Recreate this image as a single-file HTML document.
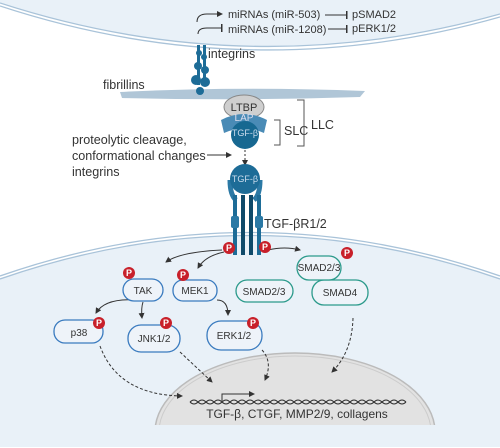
<!DOCTYPE html>
<html><head><meta charset="utf-8"><style>
html,body{margin:0;padding:0;background:#fff;width:500px;height:448px;overflow:hidden}
svg{display:block;font-family:"Liberation Sans",sans-serif}
</style></head><body>
<svg width="500" height="448" viewBox="0 0 500 448">
<defs>
<marker id="ah" markerWidth="6" markerHeight="6" refX="5" refY="3" orient="auto"><path d="M0,0 L6,3 L0,6 z" fill="#333"/></marker>
<marker id="tb" markerWidth="2" markerHeight="8" refX="1" refY="4" orient="auto"><rect x="0" y="0" width="1.5" height="8" fill="#333"/></marker>
<clipPath id="nucclip"><rect x="0" y="0" width="500" height="425"/></clipPath>
</defs>
<path d="M0,0 L500,0 L500,14 Q250,84 0,3 Z" fill="#e9f1f8"/>
<path d="M0,3 Q250,84 500,14" fill="none" stroke="#a9c3d9" stroke-width="1.3"/>
<path d="M0,6 Q250,88 500,17" fill="none" stroke="#a9c3d9" stroke-width="1.3"/>
<path d="M0,279 Q250,192 500,279 L500,447 L0,447 Z" fill="#e9f1f8"/>
<path d="M0,276 Q250,189 500,276" fill="none" stroke="#a9c3d9" stroke-width="1.3"/>
<path d="M0,279 Q250,192 500,279" fill="none" stroke="#a9c3d9" stroke-width="1.3"/>
<g clip-path="url(#nucclip)">
<ellipse cx="295" cy="432" rx="140" ry="79" fill="#e2e2e2" stroke="#bbb" stroke-width="1.5"/>
<ellipse cx="295" cy="432" rx="136" ry="76" fill="none" stroke="#ccc" stroke-width="1"/>
</g>
<g font-size="11" fill="#333">
<path d="M197,22 Q197,14 207,14 L222,14" fill="none" stroke="#333" stroke-width="1" marker-end="url(#ah)"/>
<text x="228" y="18">miRNAs (miR-503)</text>
<line x1="325" y1="15" x2="347" y2="15" stroke="#333" marker-end="url(#tb)"/>
<text x="352" y="18">pSMAD2</text>
<path d="M198,34 Q198,28 207,28 L222,28" fill="none" stroke="#333" stroke-width="1" marker-end="url(#tb)"/>
<text x="228" y="33">miRNAs (miR-1208)</text>
<line x1="328" y1="29" x2="347" y2="29" stroke="#333" marker-end="url(#tb)"/>
<text x="352" y="32">pERK1/2</text>
</g>
<path d="M120,92 Q240,86 365,91 L360,97 Q240,101 122,98 Z" fill="#8eaec6" opacity="0.7"/>
<text x="103" y="89" font-size="12.5" fill="#333">fibrillins</text>
<g fill="#1d6c97">
<rect x="197" y="45" width="3" height="40"/><rect x="203" y="45" width="3" height="40"/>
<circle cx="199" cy="53" r="3"/><circle cx="204" cy="57" r="3"/><circle cx="198" cy="66" r="4"/><circle cx="205" cy="70" r="4"/><circle cx="196" cy="80" r="5"/><circle cx="205" cy="82" r="5"/><circle cx="200" cy="91" r="4"/>
</g>
<text x="208" y="58" font-size="12.5" fill="#333">integrins</text>
<ellipse cx="244" cy="107" rx="20" ry="12" fill="#cfcfcf" stroke="#888"/>
<text x="244" y="111" font-size="11" text-anchor="middle" fill="#333">LTBP</text>
<path d="M221,120 Q244,108 267,120 L264,133 Q244,124 224,133 Z" fill="#4a8bb6"/>
<text x="244" y="121" font-size="10" text-anchor="middle" fill="#dde">LAP</text>
<circle cx="245" cy="135" r="14" fill="#176891"/>
<text x="245" y="136" font-size="9" text-anchor="middle" fill="#cde">TGF-β</text>
<path d="M274,120 L280,120 L280,145 L274,145" fill="none" stroke="#555"/>
<text x="284" y="135" font-size="12.5" fill="#333">SLC</text>
<path d="M297,100 L304,100 L304,146 L297,146" fill="none" stroke="#555"/>
<text x="311" y="129" font-size="12.5" fill="#333">LLC</text>
<g font-size="12.6" fill="#333">
<text x="72" y="144">proteolytic cleavage,</text>
<text x="72" y="160">conformational changes</text>
<text x="72" y="176">integrins</text>
</g>
<line x1="207" y1="155" x2="231" y2="155" stroke="#333" marker-end="url(#ah)"/>
<line x1="245" y1="150" x2="245" y2="165" stroke="#333" stroke-dasharray="2,2" marker-end="url(#ah)"/>
<g>
<path d="M230,180 Q230,195 236,200 M260,180 Q260,195 254,200" stroke="#2b79a5" stroke-width="5" fill="none"/>
<rect x="233" y="195" width="4" height="60" fill="#1d6c97"/><rect x="241" y="195" width="4" height="60" fill="#0f4a6a"/>
<rect x="249" y="195" width="4" height="60" fill="#0f4a6a"/><rect x="257" y="195" width="4" height="60" fill="#1d6c97"/>
<rect x="231" y="216" width="8" height="12" rx="2" fill="#2b79a5"/><rect x="255" y="216" width="8" height="12" rx="2" fill="#2b79a5"/>
<circle cx="245" cy="179" r="15" fill="#1d6c97"/>
<text x="245" y="182" font-size="9" text-anchor="middle" fill="#cde">TGF-β</text>
</g>
<text x="264" y="228" font-size="12.5" fill="#333">TGF-βR1/2</text>
<g fill="none" stroke="#333" stroke-width="1">
<path d="M222,250 Q180,252 166,262" marker-end="url(#ah)"/>
<path d="M224,252 Q205,256 198,268" marker-end="url(#ah)"/>
<path d="M268,250 Q285,246 300,250" marker-end="url(#ah)"/>
<path d="M136,300 Q105,298 96,313" marker-end="url(#ah)"/>
<path d="M143,302 Q141,308 142,318" marker-end="url(#ah)"/>
<path d="M217,300 Q228,300 228,315" marker-end="url(#ah)"/>
</g>
<g fill="none" stroke="#333" stroke-width="1" stroke-dasharray="3,2">
<path d="M100,346 Q118,395 182,396" marker-end="url(#ah)"/>
<path d="M180,352 L212,382" marker-end="url(#ah)"/>
<path d="M262,350 Q273,362 265,380" marker-end="url(#ah)"/>
<path d="M353,318 Q352,352 332,372" marker-end="url(#ah)"/>
</g>
<g font-size="10" fill="#333" text-anchor="middle">
<rect x="123" y="279" width="40" height="22" rx="11" fill="#eef3f9" stroke="#3a7bbf" stroke-width="1.3"/><text x="143" y="294">TAK</text>
<rect x="173" y="280" width="44" height="21" rx="10" fill="#eef3f9" stroke="#3a7bbf" stroke-width="1.3"/><text x="195" y="294">MEK1</text>
<rect x="236" y="280" width="57" height="22" rx="11" fill="#eef3f9" stroke="#2b9a8b" stroke-width="1.3"/><text x="264" y="295">SMAD2/3</text>
<rect x="312" y="280" width="56" height="25" rx="12" fill="#eef3f9" stroke="#2b9a8b" stroke-width="1.3"/><text x="340" y="296">SMAD4</text>
<rect x="297" y="256" width="44" height="24" rx="12" fill="#eef3f9" stroke="#2b9a8b" stroke-width="1.3"/><text x="319" y="271">SMAD2/3</text>
<rect x="54" y="320" width="49" height="23" rx="11" fill="#eef3f9" stroke="#3a7bbf" stroke-width="1.3"/><text x="79" y="336">p38</text>
<rect x="128" y="325" width="52" height="27" rx="13" fill="#eef3f9" stroke="#3a7bbf" stroke-width="1.3"/><text x="154" y="342">JNK1/2</text>
<rect x="207" y="321" width="55" height="29" rx="14" fill="#eef3f9" stroke="#3a7bbf" stroke-width="1.3"/><text x="234" y="339">ERK1/2</text>
</g>
<g font-size="9" fill="#fff" text-anchor="middle" font-weight="bold">
<circle cx="229" cy="248" r="6" fill="#c8202a"/><text x="229" y="251">P</text>
<circle cx="265" cy="247" r="6" fill="#c8202a"/><text x="265" y="250">P</text>
<circle cx="129" cy="273" r="6" fill="#c8202a"/><text x="129" y="276">P</text>
<circle cx="183" cy="275" r="6" fill="#c8202a"/><text x="183" y="278">P</text>
<circle cx="99" cy="323" r="6" fill="#c8202a"/><text x="99" y="326">P</text>
<circle cx="166" cy="323" r="6" fill="#c8202a"/><text x="166" y="326">P</text>
<circle cx="253" cy="323" r="6" fill="#c8202a"/><text x="253" y="326">P</text>
<circle cx="347" cy="253" r="6" fill="#c8202a"/><text x="347" y="256">P</text>
</g>
<g fill="none" stroke="#333" stroke-width="1">
<path d="M190,402 q4,-4 8,0 t8,0 t8,0 t8,0 t8,0 t8,0 t8,0 t8,0 t8,0 t8,0 t8,0 t8,0 t8,0 t8,0 t8,0 t8,0 t8,0 t8,0 t8,0 t8,0 t8,0 t8,0 t8,0 t8,0 t8,0 t8,0 t8,0"/>
<path d="M190,402 q4,4 8,0 t8,0 t8,0 t8,0 t8,0 t8,0 t8,0 t8,0 t8,0 t8,0 t8,0 t8,0 t8,0 t8,0 t8,0 t8,0 t8,0 t8,0 t8,0 t8,0 t8,0 t8,0 t8,0 t8,0 t8,0 t8,0 t8,0"/>
</g>
<path d="M222,401 L222,394 L254,394" fill="none" stroke="#333" marker-end="url(#ah)"/>
<text x="297" y="418" font-size="12" text-anchor="middle" fill="#333">TGF-β, CTGF, MMP2/9, collagens</text>
</svg>
</body></html>
